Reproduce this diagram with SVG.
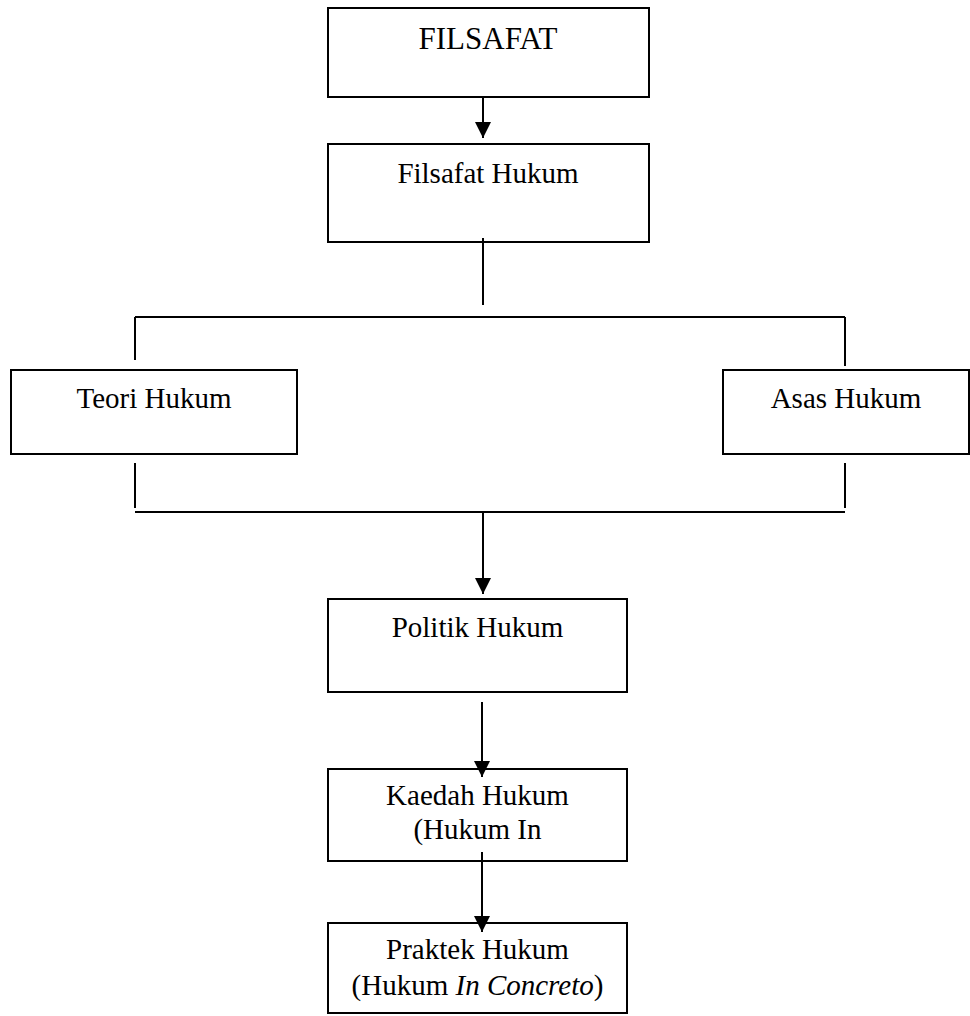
<svg xmlns="http://www.w3.org/2000/svg" width="970" height="1016" viewBox="0 0 970 1016">
<style>
.box{fill:#fff;stroke:#000;stroke-width:2}
.ln{stroke:#000;stroke-width:2;fill:none}
text{font-family:"Liberation Serif","Times New Roman",serif;font-size:29px;fill:#000;text-anchor:middle}
</style>
<defs>
<marker id="ah" markerUnits="userSpaceOnUse" markerWidth="18" markerHeight="18" viewBox="0 0 18 18" refX="16" refY="9" orient="auto">
<path d="M0,1 L16,9 L0,17 Z" fill="#000"/>
</marker>
</defs>
<g id="n-filsafat"><rect class="box" x="328" y="8" width="321" height="89"/><text x="488" y="49" style="font-size:31px">FILSAFAT</text></g>
<g id="n-filsafat-hukum"><rect class="box" x="328" y="144" width="321" height="98"/><text x="488" y="183">Filsafat Hukum</text></g>
<g id="n-teori"><rect class="box" x="11" y="370" width="286" height="84"/><text x="154" y="408">Teori Hukum</text></g>
<g id="n-asas"><rect class="box" x="723" y="370" width="246" height="84"/><text x="846" y="408">Asas Hukum</text></g>
<g id="n-politik"><rect class="box" x="328" y="599" width="299" height="93"/><text x="477.5" y="637">Politik Hukum</text></g>
<g id="n-kaedah"><rect class="box" x="328" y="769" width="299" height="92"/><text x="477.5" y="805">Kaedah Hukum</text><text x="477.5" y="839">(Hukum In</text></g>
<g id="n-praktek"><rect class="box" x="328" y="923" width="299" height="90"/><text x="477.5" y="959">Praktek Hukum</text><text x="477.5" y="995">(Hukum <tspan font-style="italic">In Concreto</tspan>)</text></g>
<g id="connectors">
<line class="ln" x1="483" y1="98" x2="483" y2="138" marker-end="url(#ah)"/>
<line class="ln" x1="483" y1="238" x2="483" y2="305"/>
<line class="ln" x1="135" y1="317" x2="845" y2="317"/>
<line class="ln" x1="135" y1="317" x2="135" y2="360"/>
<line class="ln" x1="845" y1="317" x2="845" y2="366"/>
<line class="ln" x1="135" y1="463" x2="135" y2="508"/>
<line class="ln" x1="845" y1="463" x2="845" y2="508"/>
<line class="ln" x1="135" y1="512" x2="845" y2="512"/>
<line class="ln" x1="483" y1="512" x2="483" y2="594" marker-end="url(#ah)"/>
<line class="ln" x1="482" y1="702" x2="482" y2="777" marker-end="url(#ah)"/>
<line class="ln" x1="482" y1="852" x2="482" y2="932" marker-end="url(#ah)"/>
</g>
</svg>
